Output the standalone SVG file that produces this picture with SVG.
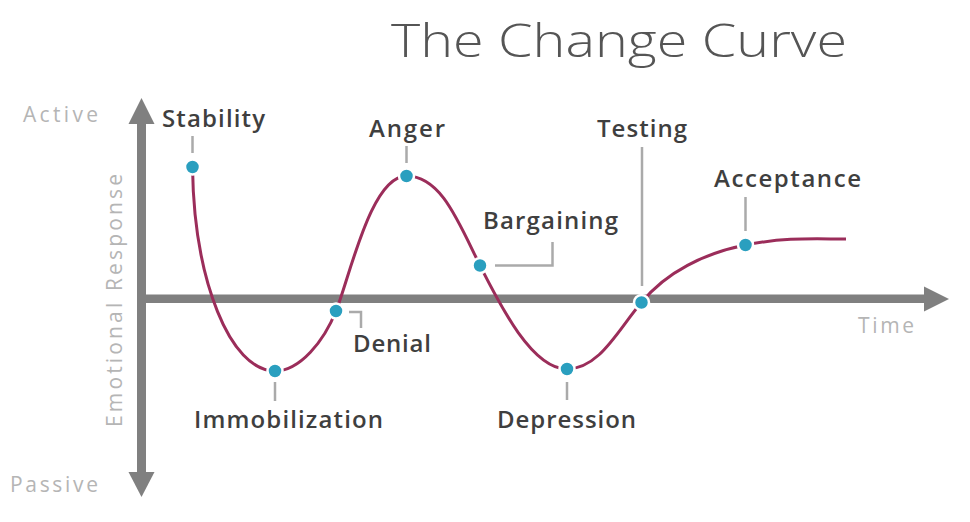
<svg xmlns="http://www.w3.org/2000/svg" width="970" height="522" viewBox="0 0 970 522">
<defs>
<style>
.title{font-family:"Open Sans","Liberation Sans",sans-serif;font-weight:300;font-size:46px;fill:#555555}
.axl{font-family:"Open Sans","Liberation Sans",sans-serif;font-size:21px;fill:#b5b5b5;letter-spacing:1px}
.lbl{font-family:"Open Sans","Liberation Sans",sans-serif;font-weight:600;font-size:24px;fill:#3f3f3f}
.axis{fill:#808080}
.lead{stroke:#aaaaaa;stroke-width:2.5;fill:none}
.curve{stroke:#9b2d5a;stroke-width:3;fill:none}
.dot{fill:#2a9fbf;stroke:#ffffff;stroke-width:2.5}
</style>
</defs>
<rect width="970" height="522" fill="#ffffff"/>
<text class="title" x="391" y="57" textLength="456" lengthAdjust="spacingAndGlyphs">The Change Curve</text>
<g id="axes">
<rect class="axis" x="137" y="120" width="9" height="356"/>
<polygon class="axis" points="141.5,98 128.5,124 154.5,124"/>
<polygon class="axis" points="141.5,497 128.5,472 154.5,472"/>
<rect class="axis" x="141" y="294.5" width="787" height="8.5"/>
<polygon class="axis" points="949,299 924,286.5 924,311.5"/>
<text class="axl" x="23" y="122" textLength="76">Active</text>
<text class="axl" x="10" y="492" textLength="89">Passive</text>
<text class="axl" x="858" y="333" textLength="57">Time</text>
<text class="axl" transform="translate(122,427) rotate(-90)" x="0" y="0" textLength="254">Emotional Response</text>
</g>
<g id="connectors">
<path class="curve" d="M192.5,167 C194,280 230,371 275,371 C300,371 324,341 336,311 C350,276 371,176 406.5,176 C441,176 458,221 480,265.5 C500,305 532,369 567,369 C600,369 619,328 641.5,302.5 C666,272 705,253 745.5,245 C785,237 815,239 846,239"/>
<line class="lead" x1="192.5" y1="136" x2="192.5" y2="153"/>
<polyline class="lead" points="349,312 361,312 361,328"/>
<line class="lead" x1="275" y1="382" x2="275" y2="401"/>
<line class="lead" x1="406.5" y1="146" x2="406.5" y2="163"/>
<polyline class="lead" points="495,265.5 552.5,265.5 552.5,242"/>
<line class="lead" x1="567" y1="382" x2="567" y2="400"/>
<line class="lead" x1="642" y1="147" x2="642" y2="286"/>
<line class="lead" x1="745.5" y1="197" x2="745.5" y2="231"/>
</g>
<g id="stability"><circle class="dot" cx="192.5" cy="167" r="7.5"/><text class="lbl" x="162" y="127" textLength="103">Stability</text></g>
<g id="immobilization"><circle class="dot" cx="275" cy="371" r="7.5"/><text class="lbl" x="194" y="428" textLength="189">Immobilization</text></g>
<g id="denial"><circle class="dot" cx="336" cy="311" r="7.5"/><text class="lbl" x="353" y="352" textLength="78">Denial</text></g>
<g id="anger"><circle class="dot" cx="406.5" cy="176" r="7.5"/><text class="lbl" x="369" y="137" textLength="76">Anger</text></g>
<g id="bargaining"><circle class="dot" cx="480" cy="265.5" r="7.5"/><text class="lbl" x="483" y="229" textLength="135">Bargaining</text></g>
<g id="depression"><circle class="dot" cx="567" cy="369" r="7.5"/><text class="lbl" x="497" y="428" textLength="139">Depression</text></g>
<g id="testing"><circle class="dot" cx="641.5" cy="302.5" r="7.5"/><text class="lbl" x="597" y="137" textLength="90">Testing</text></g>
<g id="acceptance"><circle class="dot" cx="745.5" cy="245" r="7.5"/><text class="lbl" x="714" y="187" textLength="147">Acceptance</text></g>
</svg>
